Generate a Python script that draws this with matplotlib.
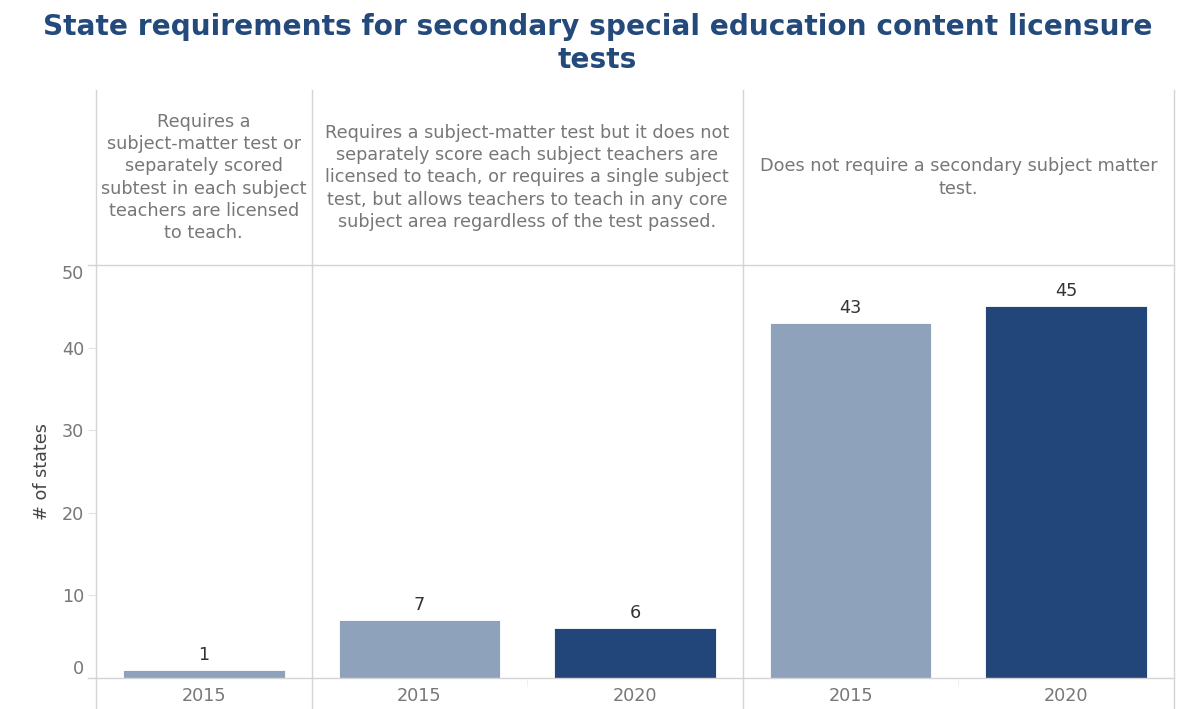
import matplotlib.pyplot as plt
from matplotlib.lines import Line2D
import numpy as np

# requirement groups, one facet each
groups = [
    "Requires a\nsubject-matter test or\nseparately scored\nsubtest in each subject\nteachers are licensed\nto teach.",
    "Requires a subject-matter test but it does not\nseparately score each subject teachers are\nlicensed to teach, or requires a single subject\ntest, but allows teachers to teach in any core\nsubject area regardless of the test passed.",
    "Does not require a secondary subject matter\ntest.",
]
years = [["2015"], ["2015", "2020"], ["2015", "2020"]]
states = [[1], [7, 6], [43, 45]]

year_colors = {"2015": "#8fa2bb", "2020": "#22457a"}
title_color = "#244a7c"
grid_color = "#d4d4d4"
label_gray = "#777777"
fs = 12.7

plt.rcParams["font.family"] = "DejaVu Sans"
W, H = 1183, 709
fig = plt.figure(figsize=(W / 100, H / 100), dpi=100)
px = 72 / 100  # one pixel in points

left, right = 96 / W, 1174 / W
bot, top = 1 - 678 / H, 1 - 265 / H
head_top = 1 - 90 / H

gs = fig.add_gridspec(2, 3, left=left, right=right, bottom=bot, top=head_top,
                      width_ratios=[len(y) for y in years],
                      height_ratios=[head_top - top, top - bot],
                      wspace=0, hspace=0)

axes = []
for i, (grp, yrs, vals) in enumerate(zip(groups, years, states)):
    # header cell with the wrapped group description
    hax = fig.add_subplot(gs[0, i])
    hax.set_axis_off()
    hax.text(0.5, 0.5, grp, ha="center", va="center", fontsize=fs,
             color=label_gray, linespacing=1.31, transform=hax.transAxes)

    ax = fig.add_subplot(gs[1, i], sharey=axes[0] if axes else None)
    x = np.arange(len(yrs))
    bars = ax.bar(x, vals, width=0.75, color=[year_colors[y] for y in yrs],
                  edgecolor="white", linewidth=0.6)
    for b, v in zip(bars, vals):
        ax.annotate(str(v), (b.get_x() + b.get_width() / 2, v),
                    xytext=(0, 6 * px), textcoords="offset points",
                    ha="center", va="bottom", fontsize=fs, color="#333333")
    ax.set_xlim(-0.5, len(yrs) - 0.5)
    ax.set_ylim(0, 50)
    ax.set_xticks(x)
    ax.set_xticklabels(yrs)
    ax.set_xticks(np.arange(len(yrs) - 1) + 0.5, minor=True)
    ax.tick_params(axis="x", which="major", length=0, pad=6.5, labelsize=fs,
                   labelcolor=label_gray)
    ax.tick_params(axis="x", which="minor", length=8 * px, color="#eeeeee")
    for s in ax.spines.values():
        s.set_visible(False)
    if i == 0:
        ax.set_yticks(range(0, 51, 10))
        ax.tick_params(axis="y", length=8 * px, color="#e2e2e2", pad=4 * px,
                       labelsize=fs, labelcolor=label_gray)
        ax.set_ylabel("# of states", fontsize=fs, color="#444444", labelpad=8)
    else:
        ax.tick_params(axis="y", left=False, labelleft=False)
    axes.append(ax)

# keep the end labels inside the plot area
fig.canvas.draw()
ylabels = axes[0].get_yticklabels()
ylabels[0].set_va("bottom")
ylabels[-1].set_va("top")

# facet grid lines
x_edges = [left]
acc = 0
total = sum(len(y) for y in years)
for y in years:
    acc += len(y)
    x_edges.append(left + (right - left) * acc / total)
for xe in x_edges:
    fig.add_artist(Line2D([xe, xe], [0, head_top], color=grid_color, lw=1))
for ye in (bot, top):
    fig.add_artist(Line2D([left - 8 / W, right], [ye, ye], color=grid_color, lw=1))

fig.text(0.505, 1 - 13 / H, "State requirements for secondary special education content licensure\ntests",
         ha="center", va="top", fontsize=20.2, fontweight="bold", color=title_color,
         linespacing=1.25)

fig.savefig("out.png", dpi=100)
